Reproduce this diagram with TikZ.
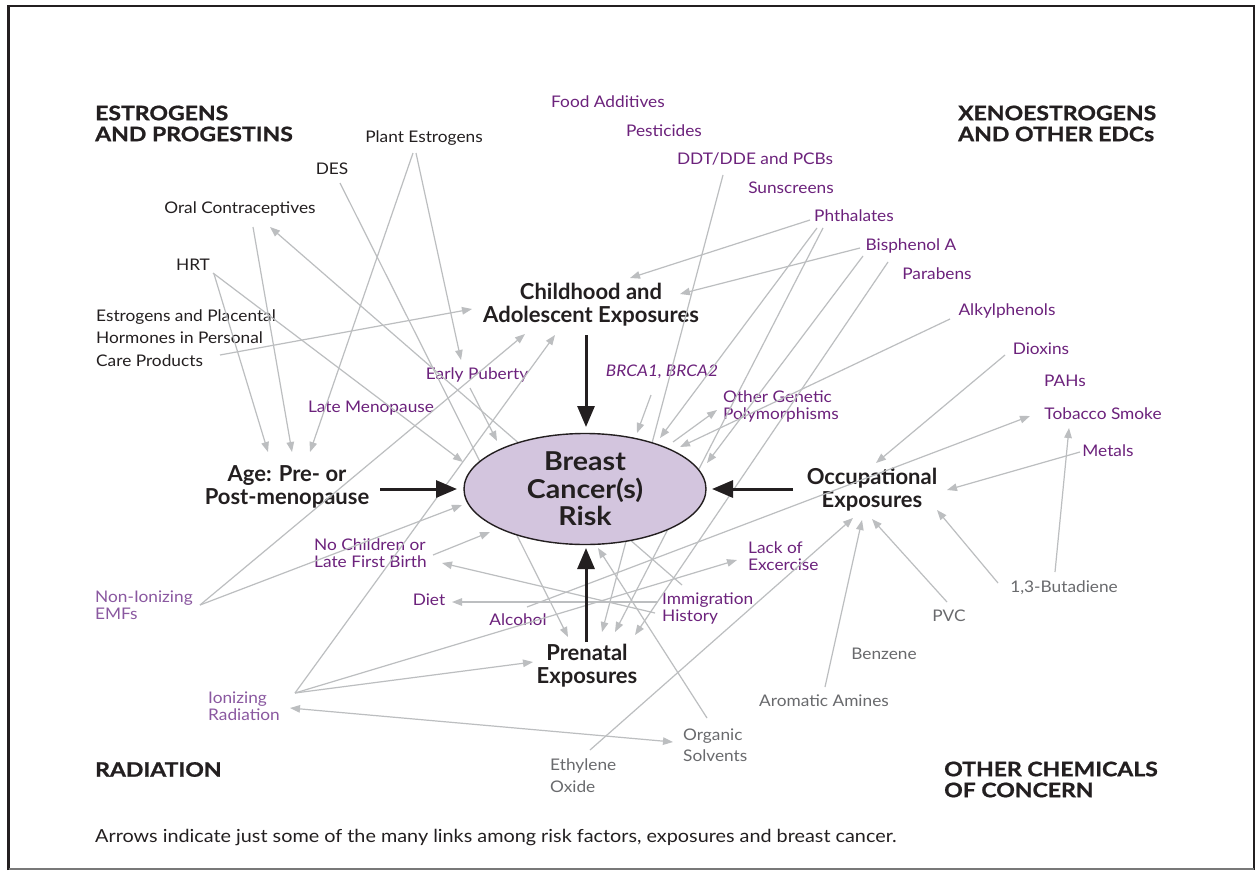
\documentclass[tikz,border=0pt]{standalone}
\usepackage{fontspec}
\setmainfont{Lato}
\newfontfamily\labfont{Lato}[FakeStretch=1.08]
\newfontfamily\headfont{Lato}[FakeStretch=1.15, BoldFeatures={FakeBold=1}]
\newfontfamily\footfont{Lato}[FakeStretch=1.1]
\newfontfamily\bcfont{Lato}[FakeStretch=1.1]
\usetikzlibrary{arrows.meta,calc,shapes.geometric}
\definecolor{ink}{RGB}{35,31,32}
\definecolor{plum}{RGB}{108,34,124}
\definecolor{lplum}{RGB}{138,88,160}
\definecolor{grayt}{RGB}{105,106,109}
\definecolor{lgray}{RGB}{188,190,192}
\definecolor{ellfill}{RGB}{211,197,222}
\definecolor{framegray}{RGB}{120,120,120}
\tikzset{
  lab/.style={font=\labfont\fontsize{16}{17}\selectfont, inner sep=0pt, text=ink},
  plab/.style={lab, text=plum},
  lplab/.style={lab, text=lplum},
  glab/.style={lab, text=grayt},
  mlab/.style={anchor=west, align=left},
  head/.style={font=\headfont\fontsize{20}{21}\selectfont\bfseries, inner sep=0pt, text=ink, anchor=west, align=left},
  mainnode/.style={font=\fontsize{22}{23}\selectfont\bfseries, inner sep=0pt, text=ink, align=center},
  con/.style={draw=lgray, line width=1.2pt, -{Triangle[length=10pt,width=7.5pt]}},
  bicon/.style={draw=lgray, line width=1.2pt, {Triangle[length=10pt,width=7.5pt]}-{Triangle[length=10pt,width=7.5pt]}},
  bigarrow/.style={draw=ink, line width=3pt, -{Triangle[length=21pt,width=17pt]}},
}
\begin{document}
\begin{tikzpicture}[x=1pt,y=-1pt]
\useasboundingbox (0,0) rectangle (1255,870);
\fill[white] (0,0) rectangle (1255,870);
% frame
\draw[ink, line width=2.5pt] (8.5,870) -- (8.5,6) -- (1254,6) -- (1254,870);
\draw[framegray, line width=2pt] (8.5,869) -- (1254,869);

% headings
\node[head] (esthead) at (95,123.5) {ESTROGENS\\AND PROGESTINS};
\node[head] (xenohead) at (958,123.5) {XENOESTROGENS\\AND OTHER EDCs};
\node[head] (radhead) at (95,769.5) {RADIATION};
\node[head] (chemhead) at (944,779.5) {OTHER CHEMICALS\\OF CONCERN};

% black labels
\node[lab] (plant) at (424,138) {Plant Estrogens};
\node[lab] (des) at (332,169) {DES};
\node[lab] (oral) at (240,209) {Oral Contraceptives};
\node[lab] (hrt) at (193,265) {HRT};
\node[lab, mlab, font=\labfont\fontsize{16}{22.5}\selectfont] (pcp) at (96,338) {Estrogens and Placental\\Hormones in Personal\\Care Products};

% purple labels
\node[plab] (food) at (608,102) {Food Additives};
\node[plab] (pest) at (664,131) {Pesticides};
\node[plab] (ddt) at (755,159) {DDT/DDE and PCBs};
\node[plab] (sun) at (791,188) {Sunscreens};
\node[plab] (phth) at (854,216) {Phthalates};
\node[plab] (bis) at (911,246) {Bisphenol A};
\node[plab] (para) at (937,274) {Parabens};
\node[plab] (alky) at (1007,311) {Alkylphenols};
\node[plab] (diox) at (1041,349) {Dioxins};
\node[plab] (pahs) at (1065,381) {PAHs};
\node[plab] (tob) at (1103,414) {Tobacco Smoke};
\node[plab] (metals) at (1108,451) {Metals};
\node[plab] (early) at (477,375) {Early Puberty};
\node[plab] (late) at (371,408) {Late Menopause};
\node[plab, font=\labfont\fontsize{16}{17}\selectfont\itshape] (brca) at (662,372) {BRCA1, BRCA2};
\node[plab, mlab] (other) at (723,406) {Other Genetic\\Polymorphisms};
\node[plab, mlab] (nochild) at (314,553) {No Children or\\Late First Birth};
\node[plab] (diet) at (429,600) {Diet};
\node[plab] (alcohol) at (518,620) {Alcohol};
\node[plab, mlab] (lack) at (748,556) {Lack of\\Excercise};
\node[plab, mlab] (immig) at (662,608) {Immigration\\History};
\node[lplab, mlab] (emf) at (95,605) {Non-Ionizing\\EMFs};
\node[lplab, mlab] (ion) at (208,706) {Ionizing\\Radiation};

% gray labels
\node[glab] (buta) at (1064,588) {1,3-Butadiene};
\node[glab] (pvc) at (949,616) {PVC};
\node[glab] (benz) at (884,654) {Benzene};
\node[glab] (arom) at (824,701) {Aromatic Amines};
\node[glab, mlab, font=\labfont\fontsize{16}{22}\selectfont] (ethyl) at (550,776) {Ethylene\\Oxide};
\node[glab, mlab, font=\labfont\fontsize{16}{21}\selectfont] (organic) at (683,745) {Organic\\Solvents};

% main nodes
\node[mainnode] (child) at (591,305) {Childhood and\\Adolescent Exposures};
\node[mainnode] (age) at (287,487) {Age: Pre- or\\Post-menopause};
\node[mainnode] (occ) at (872,490) {Occupational\\Exposures};
\node[mainnode] (pre) at (587,666) {Prenatal\\Exposures};

% connectors
\draw[con] ($(plant)+(-11,15)$) -- ($(age)+(23,-35)$);
\draw[con] ($(plant)+(-8,15)$) -- ($(early)+(-16,-15)$);
\draw[con] ($(des)+(8,14)$) -- ($(pre)+(-19,-29)$);
\draw[con] ($(oral)+(13,18)$) -- ($(age)+(5,-35)$);
\draw[con] ($(immig.west)+(20,-23)$) -- ($(oral)+(30,18)$);
\draw[con] ($(hrt)+(21,9)$) -- ($(age)+(-19,-35)$);
\draw[con] ($(hrt)+(20,8)$) -- ($(age)+(176,-25)$);
\draw[con] ($(pcp.west)+(124,17)$) -- ($(child)+(-119,4)$);
\draw[con] ($(early)+(-7,13)$) -- ($(child)+(-94,136)$);
\draw[con] ($(emf.west)+(105,0)$) -- ($(child)+(-66,29)$);
\draw[con] ($(emf.west)+(105,0)$) -- ($(age)+(175,18)$);
\draw[con] ($(ion.west)+(87,-13)$) -- ($(child)+(-36,30)$);
\draw[con] ($(ion.west)+(87,-13)$) -- ($(pre)+(-54,-4)$);
\draw[con] ($(ion.west)+(87,-13)$) -- ($(lack.west)+(-11,4)$);
\draw[bicon] ($(ion.west)+(82,2)$) -- ($(organic.west)+(-10,-3)$);
\draw[con] ($(nochild.west)+(119,2)$) -- ($(nochild.west)+(176,-21)$);
\draw[con] ($(immig.west)+(-7,5)$) -- ($(nochild.west)+(128,10)$);
\draw[con] ($(immig.west)+(-4,-6)$) -- ($(diet)+(23,2)$);
\draw[con] ($(alcohol)+(9,-13)$) -- ($(tob)+(-73,2)$);
\draw[con] ($(brca)+(-11,23)$) -- ($(brca)+(-25,61)$);
\draw[con] ($(ddt)+(-32,16)$) -- ($(pre)+(15,-34)$);
\draw[con] ($(phth)+(-44,4)$) -- ($(child)+(39,-27)$);
\draw[con] ($(phth)+(-37,12)$) -- ($(phth)+(-194,222)$);
\draw[con] ($(phth)+(-31,12)$) -- ($(pre)+(28,-34)$);
\draw[con] ($(bis)+(-51,2)$) -- ($(child)+(89,-11)$);
\draw[con] ($(bis)+(-48,10)$) -- ($(bis)+(-204,217)$);
\draw[con] ($(bis)+(-23,16)$) -- ($(pre)+(48,-31)$);
\draw[con] ($(alky)+(-57,8)$) -- ($(alky)+(-327,136)$);
\draw[con] ($(diox)+(-36,6)$) -- ($(occ)+(4,-27)$);
\draw[con] ($(metals)+(-28,1)$) -- ($(occ)+(75,0)$);
\draw[con] ($(buta)+(-9,-16)$) -- ($(tob)+(-34,14)$);
\draw[con] ($(buta)+(-66,-5)$) -- ($(occ)+(65,20)$);
\draw[con] ($(pvc)+(-2,-14)$) -- ($(occ)+(0,29)$);
\draw[con] ($(arom)+(1,-14)$) -- ($(occ)+(-10,30)$);
\draw[con] ($(ethyl.west)+(40,-26)$) -- ($(occ)+(-19,28)$);
\draw[con] ($(organic.west)+(24,-27)$) -- ($(pre)+(11,-118)$);

% central ellipse (drawn over connectors that pass behind it)
\node[ellipse, draw=ink, line width=1.4pt, fill=ellfill, minimum width=242pt, minimum height=111pt, inner sep=0pt, align=center, font=\bcfont\fontsize{26}{27.5}\selectfont\bfseries, text=ink] (bc) at (585,489) {Breast\\Cancer(s)\\Risk};

% connectors that start at the ellipse
\draw[con] ($(bc)+(88,-47)$) -- ($(other.west)+(-6,4)$);

% thick arrows into the ellipse
\draw[bigarrow] ($(child)+(-5,30)$) -- ($(bc)+(1,-62)$);
\draw[bigarrow] ($(age)+(93,2)$) -- ($(bc)+(-128,0)$);
\draw[bigarrow] ($(occ)+(-79,-1)$) -- ($(bc)+(127,0)$);
\draw[bigarrow] ($(pre)+(-1,-24)$) -- ($(bc)+(1,59)$);

% footer
\node[lab, anchor=west, font=\footfont\fontsize{18}{19}\selectfont] (foot) at (95,838) {Arrows indicate just some of the many links among risk factors, exposures and breast cancer.};
\end{tikzpicture}
\end{document}
